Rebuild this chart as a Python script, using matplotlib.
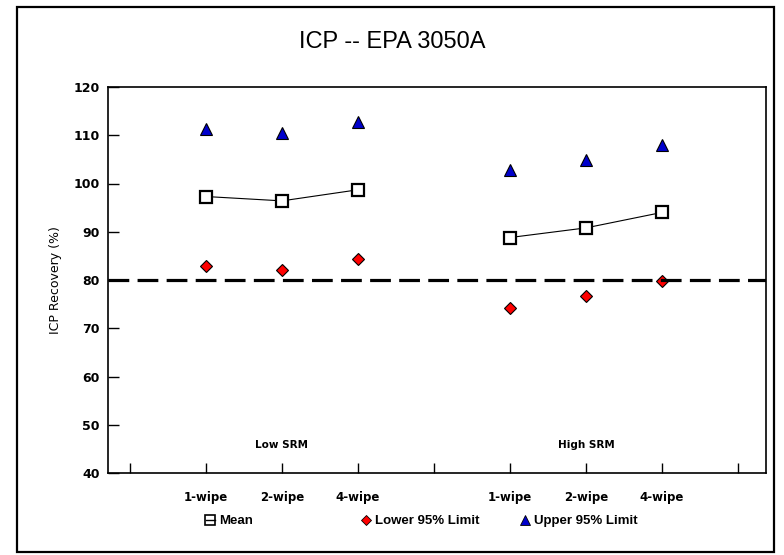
import matplotlib
matplotlib.use('Agg')
import matplotlib.pyplot as plt
from matplotlib.lines import Line2D
from matplotlib.patches import Rectangle

plt.rcParams['font.family'] = ['Liberation Sans', 'DejaVu Sans']

# data
positions = [2, 3, 4, 6, 7, 8]
tick_labels = ['1-wipe', '2-wipe', '4-wipe', '1-wipe', '2-wipe', '4-wipe']
mean_low = [97.3, 96.4, 98.7]
mean_high = [88.8, 90.8, 94.0]
lower_limit = [82.9, 82.0, 84.4, 74.2, 76.6, 79.8]
upper_limit = [111.3, 110.4, 112.7, 102.9, 104.9, 108.0]
group_names = ['Low SRM', 'High SRM']
group_pos = [3, 7]
target = 80

wide = 'DejaVu Sans'

fig = plt.figure(figsize=(7.84, 5.55), dpi=100)
ax = fig.add_axes([108/784, 1-473/555, (766-108)/784, (473-87)/555])

# outer frame
fig.patches.append(Rectangle((17/784, 3/555), (774-17)/784, (548-3)/555,
                             transform=fig.transFigure, fill=False,
                             edgecolor='black', linewidth=1.6))

ax.plot(positions[:3], mean_low, color='black', linewidth=0.8, marker='s',
        markersize=9, markerfacecolor='white', markeredgecolor='black',
        markeredgewidth=1.6, zorder=3)
ax.plot(positions[3:], mean_high, color='black', linewidth=0.8, marker='s',
        markersize=9, markerfacecolor='white', markeredgecolor='black',
        markeredgewidth=1.6, zorder=3)
ax.plot(positions, lower_limit, linestyle='none', marker='D', markersize=6.5,
        markerfacecolor='#ff0000', markeredgecolor='black', markeredgewidth=0.8,
        zorder=2)
ax.plot(positions, upper_limit, linestyle='none', marker='^', markersize=9,
        markerfacecolor='#0000cc', markeredgecolor='black', markeredgewidth=0.8,
        zorder=3)

ax.axhline(target, color='black', linewidth=2.3, dashes=(6.5, 2.6), zorder=4)

ax.set_xlim(0.71, 9.37)
ax.set_ylim(40, 120)
ax.set_yticks(range(40, 121, 10))
ax.set_yticklabels([str(v) for v in range(40, 121, 10)], fontsize=9,
                   fontweight='bold', family=wide)
ax.set_xticks(range(1, 10))
ax.set_xticklabels([])
ax.tick_params(axis='y', direction='in', length=8, width=1, pad=6)
ax.tick_params(axis='x', direction='in', length=7, width=1)
for sp in ax.spines.values():
    sp.set_linewidth(1.2)

for p, lab in zip(positions, tick_labels):
    ax.text(p, 34.9, lab, ha='center', va='center', fontsize=8.5,
            fontweight='bold', family=wide, clip_on=False)
for p, g in zip(group_pos, group_names):
    ax.text(p, 45.7, g, ha='center', va='center', fontsize=7.5,
            fontweight='bold', family=wide)

ax.set_ylabel('ICP Recovery (%)', fontsize=9, family=wide, labelpad=8)
fig.text(0.5, 1-42/555, 'ICP -- EPA 3050A', ha='center', va='center',
         fontsize=17)

# legend entries
h_mean = Line2D([], [], color='black', linewidth=1.0, marker='s',
                markersize=7, markerfacecolor='none', markeredgecolor='black',
                markeredgewidth=1.2)
h_low = Line2D([], [], linestyle='none', marker='D', markersize=5.5,
               markerfacecolor='#ff0000', markeredgecolor='black',
               markeredgewidth=0.6)
h_up = Line2D([], [], linestyle='none', marker='^', markersize=7,
              markerfacecolor='#0000cc', markeredgecolor='black',
              markeredgewidth=0.6)
for h, lab, x, hl in [(h_mean, 'Mean', 199, 0.7), (h_low, 'Lower 95% Limit', 354, 0.8),
                      (h_up, 'Upper 95% Limit', 513, 0.8)]:
    fig.legend(handles=[h], labels=[lab], loc='center left',
               bbox_to_anchor=(x/784, 1-521/555), frameon=False,
               handlelength=hl, handletextpad=0.3, borderpad=0,
               prop={'size': 9.5, 'weight': 'bold'})

fig.savefig('out.png', dpi=100)
